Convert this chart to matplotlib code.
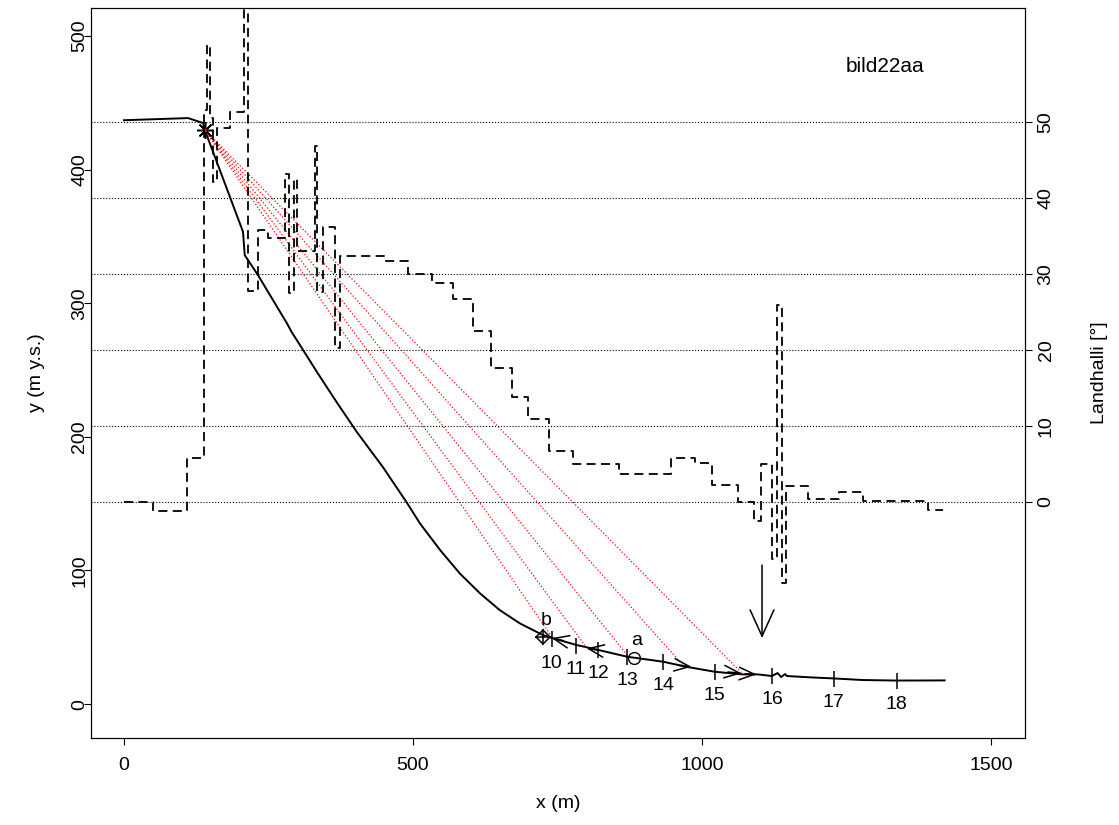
import numpy as np
import matplotlib
matplotlib.use("Agg")
import matplotlib.pyplot as plt

plt.rcParams['font.family'] = ['Liberation Sans', 'DejaVu Sans']

# ----------- data -----------
# terrain profile
prof_x = [0, 111, 137, 140, 206, 209, 232, 282, 290, 319, 334, 368, 403, 448, 490, 512,
          547, 581, 616, 650, 685, 725, 743, 783, 809, 871, 933, 973, 1022, 1071, 1097,
          1121, 1131, 1137, 1144, 1147, 1187, 1227, 1278, 1337, 1420]
prof_y = [437, 438.6, 434.9, 429.6, 353.5, 336, 321, 285, 278.6, 258.8, 248.5, 226, 203.6,
          177.4, 150.4, 135.3, 115.3, 97.8, 82.9, 70.4, 60.4, 51.6, 49.2, 44.2, 41.7, 35.4,
          31.7, 27.9, 24.2, 22.2, 22.2, 21.0, 23.2, 20.2, 22.5, 21.0, 20, 19.2, 18.0, 17.6, 17.7]

# slope angle (step line, right axis)
step_x = [0, 50, 109, 138, 144, 149, 154, 161, 183, 208, 215, 232, 249, 279, 285, 294, 299,
          330, 334, 344, 365, 374, 452, 491, 533, 569, 604, 635, 671, 699, 735, 777, 856,
          946, 988, 1017, 1062, 1090, 1102, 1121, 1130, 1138, 1145, 1183, 1237, 1279, 1391]
step_a = [0.0, -1.2, 5.8, 51.6, 60.1, 50.5, 42.1, 49.2, 51.3, 75, 27.8, 35.8, 34.7, 43.2,
          27.5, 42.5, 33.0, 46.8, 27.6, 36.2, 20.3, 32.4, 31.7, 30.0, 28.8, 26.7, 22.5, 17.6,
          13.8, 10.9, 6.7, 5.0, 3.7, 5.8, 5.1, 2.2, 0.0, -2.5, 5.0, -7.5, 25.9, -10.7, 2.1,
          0.4, 1.3, 0.1, -1.1]
step_end = 1417

# release point and run-out lines
start_pt = (140, 429.6)
ray_x = [740.5, 801, 872, 967, 1069]
ray_y = [50.1, 41.9, 35.9, 29.2, 23.2]

# numbered points along profile
num_labels = ['10', '11', '12', '13', '14', '15', '16', '17', '18']
num_x = [740, 782, 821, 871, 933, 1022, 1122, 1228, 1337]
num_y = [48.4, 43.4, 40.4, 35.4, 31.7, 24.2, 21.0, 18.7, 17.2]

# arrow heads along the profile (tip, tail)
head_tip_x = [740, 800.5, 982, 1068.5, 1094.5]
head_tip_y = [49.4, 41.7, 27.9, 23.0, 22.2]
head_tail_x = [760, 820, 960, 1045, 1075]
head_tail_y = [47.5, 40.4, 29.0, 24.0, 22.6]

pt_a = (882, 34.4)
pt_b = (725, 50.2)
down_arrow_x = 1104
down_arrow_y = (104, 49.4)

# right axis mapping: y = ANG0 + ANGK * angle
ANG0, ANGK = 151.2, 5.689
ang_ticks = [0, 10, 20, 30, 40, 50]

# ----------- plot -----------
fig = plt.figure(figsize=(11.19, 8.25), dpi=100)
ax = fig.add_axes([91 / 1119, 1 - 738 / 825, (1025 - 91) / 1119, (738 - 8) / 825])
ylo, yhi = -25.4, 521.0
ax.set_xlim(-57, 1559)
ax.set_ylim(ylo, yhi)

ax2 = ax.twinx()
ax2.set_ylim((ylo - ANG0) / ANGK, (yhi - ANG0) / ANGK)

for a in ang_ticks:
    ax2.axhline(a, color='black', linestyle=':', linewidth=0.8, zorder=1)

sx = step_x + [step_end]
sa = step_a + [step_a[-1]]
ax2.step(sx, sa, where='post', color='black', linestyle=(0, (5, 3)), linewidth=1.3)

for rx, ry in zip(ray_x, ray_y):
    ax.plot([start_pt[0], rx], [start_pt[1], ry], color='red', linestyle=':', linewidth=0.9)

ax.plot(prof_x, prof_y, color='black', linewidth=1.4, zorder=3)
ax.plot(*start_pt, marker=(8, 2, 0), markersize=12, color='black', mew=1.1, zorder=4)
ax.plot(*start_pt, marker='.', markersize=3, color='red', zorder=5)

ax.plot(num_x, num_y, linestyle='none', marker='|', markersize=12, mew=1.1, color='black', zorder=4)
for lab, x, y in zip(num_labels, num_x, num_y):
    ax.annotate(lab, (x, y), xytext=(0, -17), textcoords='offset points',
                ha='center', va='center', fontsize=14)

for tx, ty, bx, by in zip(head_tip_x, head_tip_y, head_tail_x, head_tail_y):
    ax.annotate('', xy=(tx, ty), xytext=(bx, by),
                arrowprops=dict(arrowstyle='->,head_length=1.1,head_width=0.45',
                                color='black', lw=1.1, shrinkA=0, shrinkB=0,
                                mutation_scale=10), zorder=4)

ax.annotate('', xy=(down_arrow_x, down_arrow_y[1]), xytext=(down_arrow_x, down_arrow_y[0]),
            arrowprops=dict(arrowstyle='->,head_length=1.9,head_width=0.86',
                            color='black', lw=1.1, shrinkA=0, shrinkB=0, mutation_scale=10))

ax.plot(*pt_a, marker='o', markersize=8.5, mfc='none', mec='black', mew=1.0, zorder=4)
ax.annotate('a', pt_a, xytext=(2, 13), textcoords='offset points', ha='center',
            va='center', fontsize=14)
ax.plot(*pt_b, marker='D', markersize=7, mfc='none', mec='black', mew=1.1, zorder=4)
ax.plot(*pt_b, marker='+', markersize=11, color='black', mew=1.1, zorder=4)
ax.annotate('b', pt_b, xytext=(2, 12), textcoords='offset points', ha='center',
            va='center', fontsize=14)

ax.text(1317, 477, 'bild22aa', ha='center', va='center', fontsize=15)

# axes styling
ax.set_xticks([0, 500, 1000, 1500])
ax.set_yticks([0, 100, 200, 300, 400, 500])
ax2.set_yticks(ang_ticks)
for a_ in (ax, ax2):
    a_.tick_params(direction='out', length=5, width=0.8, labelsize=14, pad=4)
    for s in a_.spines.values():
        s.set_linewidth(0.8)
ax.tick_params(axis='x', pad=9)
ax.tick_params(axis='y', labelrotation=90, pad=-3)
ax2.tick_params(axis='y', labelrotation=90)
for lab in ax.get_yticklabels() + ax2.get_yticklabels():
    lab.set_va('center')

ax.set_xlabel('x (m)', fontsize=14, labelpad=15)
ax.set_ylabel('y (m y.s.)', fontsize=14, labelpad=19)
ax2.set_ylabel('Landhalli [°]', fontsize=14, labelpad=26)

fig.savefig('out.png', dpi=100)
